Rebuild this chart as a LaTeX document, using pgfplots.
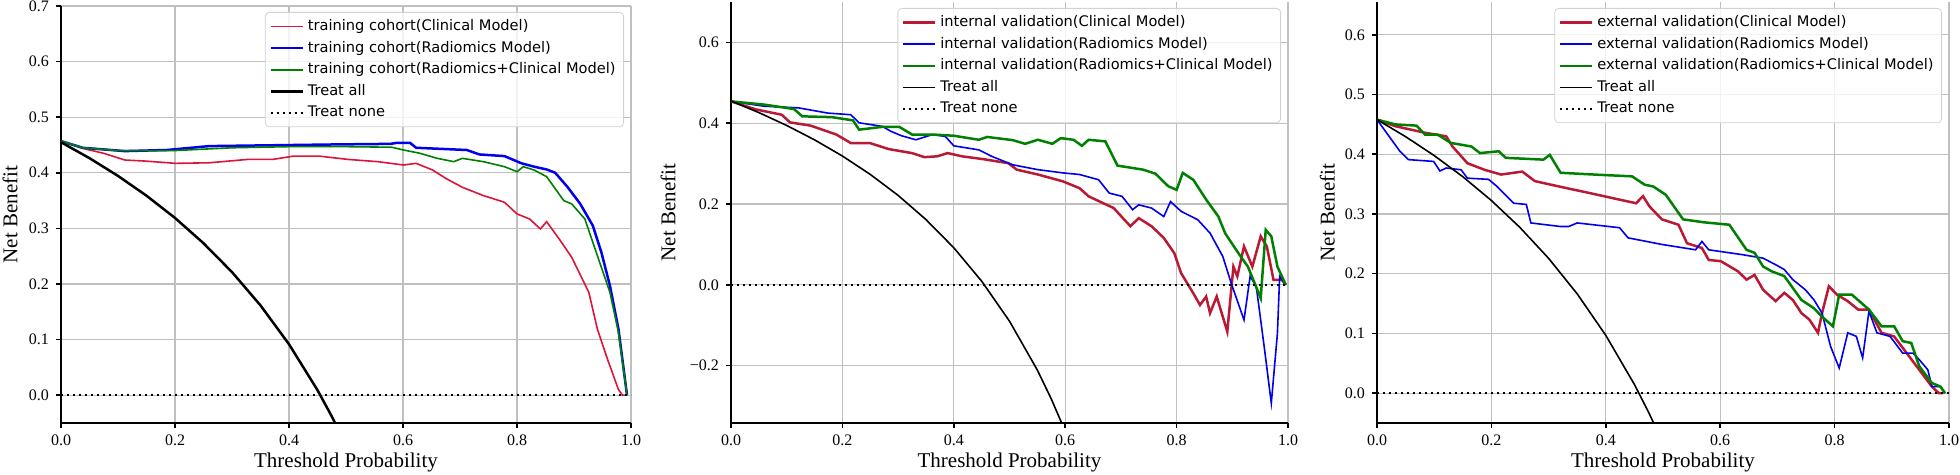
\documentclass[border=0pt]{standalone}
\usepackage{fontspec}
\setmainfont{Liberation Serif}
\newfontfamily\legfont{DejaVu Sans}
\usepackage{pgfplots}
\pgfplotsset{compat=1.18}
\definecolor{cRedA}{RGB}{220,20,60}
\definecolor{cRedB}{RGB}{185,25,50}
\definecolor{cBlue}{RGB}{0,0,235}
\definecolor{cGreen}{RGB}{0,128,0}
\definecolor{gridc}{RGB}{192,192,192}
\pgfplotsset{dca/.style={
  scale only axis, anchor=south west,
  xmin=0, xmax=1,
  axis x line=bottom, axis y line=left,
  axis line style={black, line width=1pt, -},
  tick align=outside, major tick length=2.5pt,
  tick style={black, line width=0.8pt},
  grid=major, grid style={gridc, line width=0.6pt},
  xtick={0,0.2,0.4,0.6,0.8,1},
  xticklabels={0.0,0.2,0.4,0.6,0.8,1.0},
  ticklabel style={font=\fontsize{8}{9}\selectfont},
  xlabel={Threshold Probability}, ylabel={Net Benefit},
  label style={font=\fontsize{10.5}{12}\selectfont},
  xlabel style={at={(axis description cs:0.5,0)}, anchor=center, yshift=-19.5pt},
  legend style={at={(1,1)}, anchor=north east, xshift=-3.5pt, yshift=-3pt,
    font=\legfont\fontsize{7.3}{8.5}\selectfont, draw=gray!35, rounded corners=2pt,
    fill=white, fill opacity=0.8, text opacity=1, draw opacity=1,
    inner xsep=2pt, inner ysep=1.5pt, row sep=-0.2pt},
  legend cell align=left,
  legend image code/.code={\draw[#1] (0pt,0pt) -- (16pt,0pt);},
  thinl/.style={line width=0.8pt},
  thickl/.style={line width=1.25pt},
  nonel/.style={black, line width=1.1pt, dash pattern=on 1.1pt off 1.9pt},
}}
\begin{document}
\begin{tikzpicture}
\useasboundingbox (0,0) rectangle (980pt,237.5pt);
% ---------------- Panel 1 ----------------
\begin{axis}[dca, at={(30.5pt,26pt)}, width=285pt, height=208.5pt,
  ymin=-0.05, ymax=0.7,
  ytick={0,0.1,0.2,0.3,0.4,0.5,0.6,0.7},
  yticklabels={0.0,0.1,0.2,0.3,0.4,0.5,0.6,0.7},
  ylabel style={at={(axis description cs:-0.0895,0.5)}, anchor=center}]
\addplot[cRedA, thinl] coordinates {
(0,0.457) (0.038,0.444) (0.075,0.435) (0.112,0.423) (0.149,0.421) (0.201,0.417)
(0.26,0.418) (0.327,0.424) (0.371,0.424) (0.408,0.430) (0.453,0.430) (0.504,0.424)
(0.556,0.420) (0.601,0.414) (0.623,0.417) (0.652,0.405) (0.675,0.39) (0.704,0.374)
(0.741,0.359) (0.778,0.347) (0.800,0.326) (0.822,0.317) (0.841,0.299) (0.852,0.312)
(0.874,0.281) (0.896,0.248) (0.926,0.185) (0.941,0.119) (0.959,0.064) (0.978,0.010)
(0.985,0.0) (0.993,0.0)};
\addlegendentry{training cohort(Clinical Model)}
\addplot[cBlue, thickl] coordinates {
(0,0.457) (0.038,0.445) (0.112,0.439) (0.186,0.441) (0.26,0.448) (0.334,0.449)
(0.408,0.450) (0.482,0.451) (0.578,0.452) (0.590,0.454) (0.612,0.454) (0.623,0.445)
(0.667,0.443) (0.712,0.441) (0.734,0.433) (0.778,0.430) (0.808,0.417) (0.830,0.411)
(0.852,0.406) (0.867,0.400) (0.889,0.374) (0.911,0.344) (0.933,0.305) (0.948,0.257)
(0.963,0.197) (0.978,0.119) (0.993,0.0)};
\addlegendentry{training cohort(Radiomics Model)}
\addplot[cGreen, thinl] coordinates {
(0,0.457) (0.038,0.445) (0.1,0.440) (0.2,0.440) (0.3,0.445) (0.4,0.447) (0.5,0.447)
(0.58,0.446) (0.601,0.441) (0.630,0.435) (0.660,0.426) (0.689,0.420) (0.704,0.426)
(0.741,0.420) (0.778,0.411) (0.800,0.402) (0.811,0.411) (0.830,0.405) (0.852,0.393)
(0.882,0.350) (0.896,0.344) (0.919,0.317) (0.941,0.251) (0.963,0.185) (0.978,0.113)
(0.993,0.0)};
\addlegendentry{training cohort(Radiomics+Clinical Model)}
\addplot[black, thickl] coordinates {
(0,0.455) (0.05,0.4263) (0.1,0.3944) (0.15,0.3588) (0.2,0.3188) (0.25,0.2733)
(0.3,0.2214) (0.35,0.1615) (0.4,0.0917) (0.45,0.0091) (0.475,-0.0381) (0.5,-0.09)};
\addlegendentry{Treat all}
\addplot[nonel] coordinates {(0,0) (1,0)};
\addlegendentry{Treat none}
\end{axis}
% ---------------- Panel 2 ----------------
\begin{axis}[dca, at={(365.5pt,26pt)}, width=278.5pt, height=210.5pt,
  ymin=-0.342, ymax=0.70,
  ytick={-0.2,0,0.2,0.4,0.6},
  yticklabels={−0.2,0.0,0.2,0.4,0.6},
  ylabel style={at={(axis description cs:-0.113,0.5)}, anchor=center}]
\addplot[cRedB, thickl] coordinates {
(0,0.454) (0.045,0.434) (0.091,0.421) (0.106,0.402) (0.143,0.394) (0.189,0.372)
(0.215,0.351) (0.249,0.351) (0.283,0.336) (0.325,0.326) (0.347,0.316) (0.370,0.318)
(0.389,0.326) (0.415,0.318) (0.453,0.311) (0.498,0.301) (0.513,0.285) (0.551,0.273)
(0.596,0.256) (0.626,0.239) (0.642,0.219) (0.687,0.190) (0.717,0.145) (0.732,0.165)
(0.755,0.145) (0.777,0.116) (0.796,0.078) (0.808,0.029) (0.830,-0.021) (0.842,-0.050)
(0.853,-0.029) (0.860,-0.070) (0.872,-0.029) (0.891,-0.116) (0.902,0.045) (0.909,0.021)
(0.921,0.095) (0.936,0.045) (0.951,0.120) (0.962,0.095) (0.974,0.012) (0.989,0.012)
(0.996,0.0)};
\addlegendentry{internal validation(Clinical Model)}
\addplot[cBlue, thinl] coordinates {
(0,0.454) (0.060,0.442) (0.121,0.438) (0.174,0.425) (0.215,0.421) (0.230,0.401)
(0.272,0.392) (0.287,0.380) (0.306,0.369) (0.332,0.359) (0.362,0.372) (0.385,0.367)
(0.400,0.344) (0.445,0.334) (0.468,0.318) (0.506,0.297) (0.551,0.285) (0.596,0.277)
(0.626,0.273) (0.660,0.260) (0.679,0.227) (0.702,0.219) (0.721,0.186) (0.732,0.198)
(0.755,0.190) (0.777,0.169) (0.789,0.206) (0.808,0.182) (0.838,0.161) (0.860,0.128)
(0.883,0.070) (0.898,0.004) (0.921,-0.087) (0.932,0.021) (0.943,-0.004) (0.958,-0.161)
(0.970,-0.293) (0.981,-0.120) (0.985,0.021) (0.996,0.0)};
\addlegendentry{internal validation(Radiomics Model)}
\addplot[cGreen, thickl] coordinates {
(0,0.454) (0.060,0.446) (0.113,0.435) (0.128,0.417) (0.181,0.415) (0.219,0.407)
(0.230,0.384) (0.272,0.391) (0.302,0.391) (0.325,0.372) (0.362,0.372) (0.400,0.369)
(0.445,0.359) (0.460,0.366) (0.506,0.358) (0.528,0.349) (0.551,0.359) (0.577,0.349)
(0.592,0.363) (0.615,0.359) (0.630,0.344) (0.642,0.359) (0.672,0.355) (0.694,0.295)
(0.740,0.285) (0.762,0.275) (0.785,0.244) (0.800,0.235) (0.811,0.277) (0.830,0.260)
(0.853,0.211) (0.875,0.169) (0.887,0.128) (0.913,0.074) (0.928,0.045) (0.951,-0.033)
(0.960,0.136) (0.970,0.120) (0.981,0.045) (0.996,0.0)};
\addlegendentry{internal validation(Radiomics+Clinical Model)}
\addplot[black, thinl] coordinates {
(0,0.455) (0.05,0.4263) (0.1,0.3944) (0.15,0.3588) (0.2,0.3188) (0.25,0.2733)
(0.3,0.2214) (0.35,0.1615) (0.4,0.0917) (0.45,0.0091) (0.5,-0.09) (0.55,-0.2111)
(0.575,-0.2824) (0.6,-0.3625)};
\addlegendentry{Treat all}
\addplot[nonel] coordinates {(0,0) (1,0)};
\addlegendentry{Treat none}
\end{axis}
% ---------------- Panel 3 ----------------
\begin{axis}[dca, at={(688.5pt,26pt)}, width=286pt, height=210.5pt,
  ymin=-0.05, ymax=0.655,
  ytick={0,0.1,0.2,0.3,0.4,0.5,0.6},
  yticklabels={0.0,0.1,0.2,0.3,0.4,0.5,0.6},
  ylabel style={at={(axis description cs:-0.0867,0.5)}, anchor=center}]
\addplot[cRedB, thickl] coordinates {
(0,0.458) (0.032,0.447) (0.084,0.436) (0.121,0.430) (0.132,0.413) (0.158,0.385)
(0.188,0.374) (0.217,0.366) (0.254,0.371) (0.276,0.355) (0.328,0.344) (0.372,0.335)
(0.424,0.324) (0.453,0.318) (0.465,0.330) (0.476,0.313) (0.498,0.291) (0.527,0.282)
(0.542,0.251) (0.568,0.243) (0.580,0.223) (0.601,0.221) (0.631,0.204) (0.646,0.190)
(0.660,0.198) (0.675,0.173) (0.697,0.154) (0.712,0.168) (0.727,0.156) (0.742,0.134)
(0.756,0.123) (0.771,0.101) (0.778,0.134) (0.790,0.179) (0.804,0.165) (0.823,0.154)
(0.841,0.140) (0.860,0.140) (0.882,0.101) (0.904,0.095) (0.926,0.067) (0.948,0.039)
(0.970,0.011) (0.982,0.0) (0.99,0.0)};
\addlegendentry{external validation(Clinical Model)}
\addplot[cBlue, thinl] coordinates {
(0,0.458) (0.040,0.405) (0.055,0.391) (0.099,0.388) (0.110,0.372) (0.121,0.377)
(0.147,0.374) (0.158,0.360) (0.195,0.358) (0.210,0.346) (0.239,0.318) (0.261,0.316)
(0.269,0.285) (0.321,0.279) (0.335,0.279) (0.350,0.285) (0.424,0.277) (0.439,0.260)
(0.498,0.249) (0.557,0.240) (0.568,0.254) (0.580,0.240) (0.638,0.232) (0.675,0.226)
(0.697,0.215) (0.712,0.207) (0.727,0.190) (0.749,0.173) (0.764,0.156) (0.778,0.134)
(0.793,0.078) (0.808,0.042) (0.823,0.101) (0.838,0.095) (0.849,0.059) (0.860,0.137)
(0.874,0.101) (0.897,0.095) (0.919,0.067) (0.937,0.067) (0.948,0.056) (0.963,0.039)
(0.970,0.011) (0.985,0.011) (0.993,0.0)};
\addlegendentry{external validation(Radiomics Model)}
\addplot[cGreen, thickl] coordinates {
(0,0.458) (0.032,0.450) (0.069,0.448) (0.084,0.433) (0.106,0.433) (0.129,0.419)
(0.165,0.413) (0.180,0.402) (0.213,0.405) (0.225,0.394) (0.291,0.391) (0.302,0.399)
(0.321,0.369) (0.380,0.366) (0.446,0.363) (0.468,0.349) (0.483,0.346) (0.505,0.332)
(0.535,0.291) (0.572,0.286) (0.616,0.282) (0.646,0.240) (0.660,0.235) (0.675,0.212)
(0.690,0.204) (0.712,0.196) (0.742,0.156) (0.764,0.142) (0.778,0.128) (0.797,0.112)
(0.808,0.165) (0.830,0.165) (0.860,0.140) (0.882,0.112) (0.904,0.112) (0.919,0.087)
(0.934,0.084) (0.948,0.045) (0.970,0.017) (0.985,0.011) (0.993,0.0)};
\addlegendentry{external validation(Radiomics+Clinical Model)}
\addplot[black, thinl] coordinates {
(0,0.458) (0.05,0.4295) (0.1,0.3978) (0.15,0.3624) (0.2,0.3225) (0.25,0.2773)
(0.3,0.2257) (0.35,0.1662) (0.4,0.0967) (0.45,0.0145) (0.475,-0.0324) (0.5,-0.084)};
\addlegendentry{Treat all}
\addplot[nonel] coordinates {(0,0) (1,0)};
\addlegendentry{Treat none}
\end{axis}
\end{tikzpicture}
\end{document}
